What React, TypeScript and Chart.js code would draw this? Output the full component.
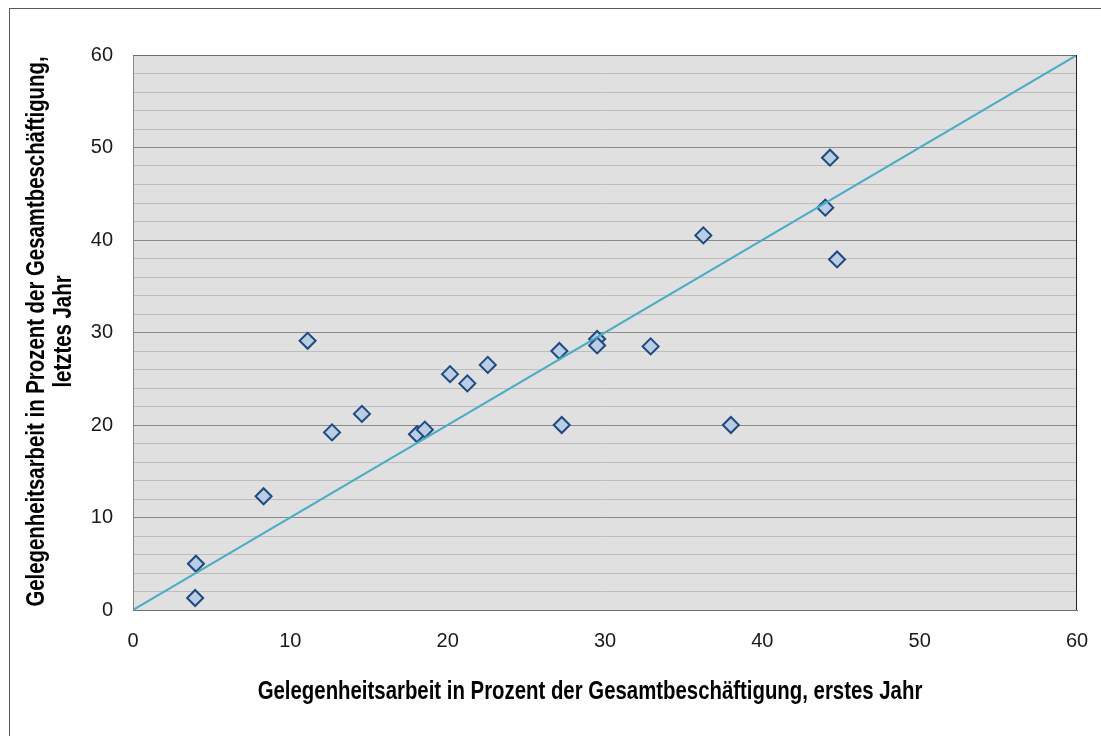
import React, { useEffect, useRef } from "react";
import { Chart, registerables } from "chart.js";

Chart.register(...registerables);

const xValues = [4.0, 3.95, 8.3, 11.1, 12.65, 14.55, 18.05, 18.55, 20.15, 21.25, 22.55, 27.1, 27.25, 29.5, 29.5, 32.9, 36.25, 38.0, 44.0, 44.3, 44.75];
const yValues = [5.0, 1.3, 12.3, 29.1, 19.2, 21.2, 19.0, 19.5, 25.5, 24.5, 26.5, 28.0, 20.0, 29.3, 28.6, 28.5, 40.5, 20.0, 43.5, 48.9, 37.9];
const diagonalX = [0, 60];
const diagonalY = [0, 60];
const yTickStep = 2;
const xTickStep = 10;
const xTitle = "Gelegenheitsarbeit in Prozent der Gesamtbeschäftigung, erstes Jahr";
const yTitle = ["Gelegenheitsarbeit in Prozent der Gesamtbeschäftigung,", "letztes Jahr"];

const FONT = "'Liberation Sans', Arial, sans-serif";
const NARROW = 0.815;

const plotDecor = {
  id: "plotDecor",
  beforeDraw(chart: any) {
    const { ctx, chartArea: a } = chart;
    ctx.save();
    ctx.fillStyle = "#e0e0e0";
    ctx.fillRect(a.left, a.top, a.right - a.left, a.bottom - a.top);
    ctx.restore();
  },
  afterDraw(chart: any) {
    const { ctx, chartArea: a } = chart;
    ctx.save();
    ctx.lineWidth = 1;
    ctx.strokeStyle = "#6e6e6e";
    ctx.beginPath();
    ctx.moveTo(a.left, a.top + 0.5);
    ctx.lineTo(a.right, a.top + 0.5);
    ctx.stroke();
    ctx.strokeStyle = "#222222";
    ctx.beginPath();
    ctx.moveTo(a.right - 0.5, a.top);
    ctx.lineTo(a.right - 0.5, a.bottom);
    ctx.stroke();
    ctx.restore();

    // x title (condensed)
    ctx.save();
    ctx.fillStyle = "#000000";
    ctx.font = "bold 25px " + FONT;
    ctx.textAlign = "center";
    ctx.textBaseline = "middle";
    ctx.translate(590, 692);
    ctx.scale(NARROW, 1);
    ctx.fillText(xTitle, 0, 0);
    ctx.restore();

    // y title (condensed, rotated)
    ctx.save();
    ctx.fillStyle = "#000000";
    ctx.font = "bold 25px " + FONT;
    ctx.textAlign = "center";
    ctx.textBaseline = "middle";
    ctx.translate(37, (a.top + a.bottom) / 2 - 1);
    ctx.rotate(-Math.PI / 2);
    ctx.scale(NARROW, 1);
    yTitle.forEach((line, i) => ctx.fillText(line, 0, i * 27.5));
    ctx.restore();
  },
};

export default function App() {
  const ref = useRef<HTMLCanvasElement>(null);
  useEffect(() => {
    const points = xValues.map((x, i) => ({ x, y: yValues[i] }));
    const diag = diagonalX.map((x, i) => ({ x, y: diagonalY[i] }));
    const chart = new Chart(ref.current!, {
      type: "scatter",
      data: {
        datasets: [
          {
            type: "line",
            data: diag,
            borderColor: "#4bacc6",
            borderWidth: 2,
            pointRadius: 0,
            fill: false,
            order: 0,
          } as any,
          {
            data: points,
            pointStyle: "rectRot",
            pointRadius: 8,
            pointBackgroundColor: "#b9cde5",
            pointBorderColor: "#1f497d",
            pointBorderWidth: 2,
            order: 1,
          },
        ],
      },
      options: {
        animation: false,
        responsive: false,
        maintainAspectRatio: false,
        layout: { padding: { left: 0, top: 55, right: 24, bottom: 0 } },
        plugins: { legend: { display: false }, tooltip: { enabled: false } },
        scales: {
          x: {
            type: "linear",
            min: 0,
            max: 60,
            ticks: {
              stepSize: xTickStep,
              padding: 19,
              color: "#1a1a1a",
              font: { family: FONT, size: 20 },
              maxRotation: 0,
            },
            grid: { display: true, color: "rgba(0,0,0,0)", drawTicks: false },
            border: { display: true, color: "#707070", width: 1 },
            afterFit(axis: any) {
              axis.height = 126;
              axis.paddingLeft = 0;
              axis.paddingRight = 0;
            },
          },
          y: {
            type: "linear",
            min: 0,
            max: 60,
            ticks: {
              stepSize: yTickStep,
              autoSkip: false,
              padding: 20,
              color: "#1a1a1a",
              font: { family: FONT, size: 20 },
              callback: (v: any) => (Number(v) % 10 === 0 ? String(v) : ""),
            },
            grid: {
              drawTicks: false,
              color: (c: any) => (c.tick && c.tick.value % 10 === 0 ? "#8a8a8a" : "#bdbdbd"),
              lineWidth: 1,
            },
            border: { display: true, color: "#8a8a8a", width: 1 },
            afterFit(axis: any) {
              axis.width = 133;
              axis.paddingTop = 0;
              axis.paddingBottom = 0;
            },
          },
        },
      },
      plugins: [plotDecor],
    });
    return () => chart.destroy();
  }, []);
  return (
    <div style={{ position: "fixed", left: 0, top: 0, width: 1101, height: 736, background: "#ffffff", overflow: "hidden" }}>
      <div style={{ position: "absolute", left: 9, top: 8, width: 1200, height: 800, border: "1px solid #5a5a5a" }} />
      <canvas ref={ref} width={1101} height={736} style={{ position: "absolute", left: 0, top: 0, width: 1101, height: 736 }} />
    </div>
  );
}
